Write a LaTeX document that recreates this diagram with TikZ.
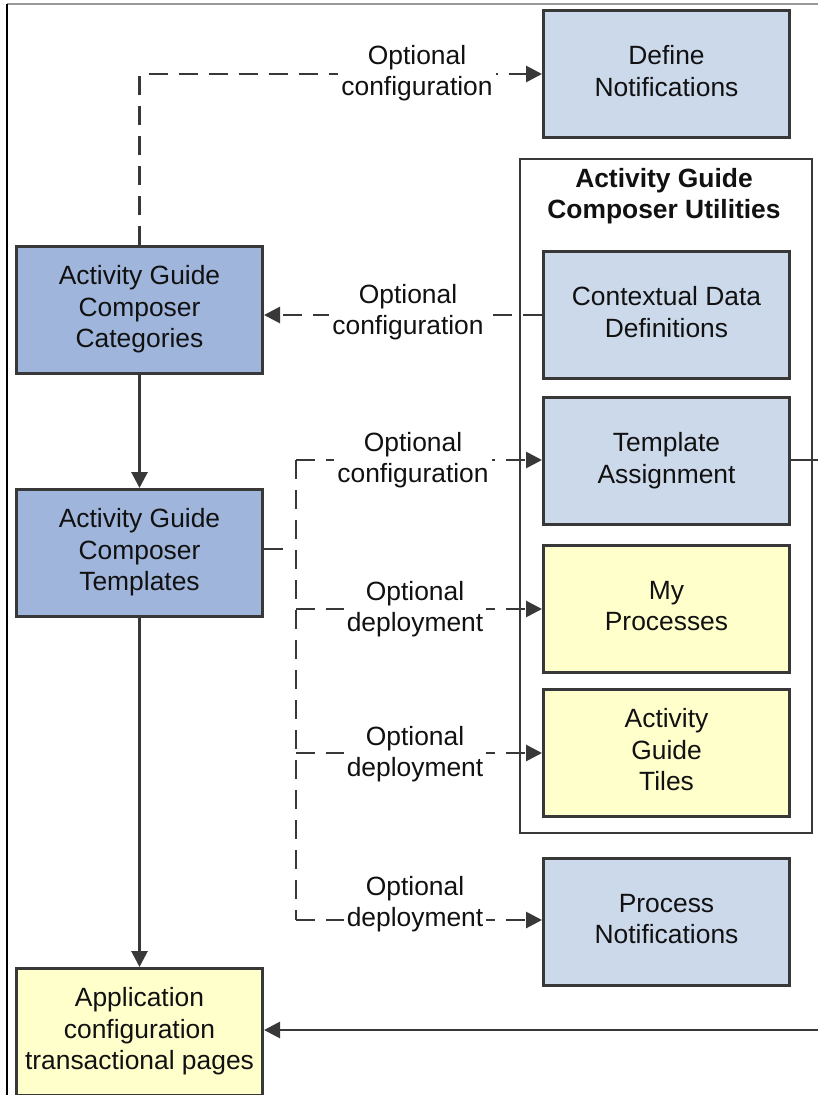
\documentclass[tikz,border=0pt]{standalone}
\usepackage{fontspec}
\setmainfont{Liberation Sans}
\usetikzlibrary{arrows.meta}
\definecolor{lblue}{HTML}{CCD9EB}
\definecolor{dblue}{HTML}{9FB5DB}
\definecolor{lyellow}{HTML}{FFFFCC}
\definecolor{edge}{HTML}{383838}
\definecolor{txt}{HTML}{111111}
\begin{document}
\begin{tikzpicture}[x=1pt,y=-1pt,
  font=\fontsize{26.4}{31.5}\selectfont, text=txt,
  box/.style={draw=edge, line width=3pt, minimum width=246pt, minimum height=127pt, align=center, inner sep=0pt, anchor=north west},
  lb/.style={box, fill=lblue},
  db/.style={box, fill=dblue},
  yb/.style={box, fill=lyellow},
  lab/.style={fill=white, align=center, inner sep=3pt},
  solidc/.style={draw=edge, line width=2.8pt},
  dashc/.style={draw=edge, line width=2.8pt, dash pattern=on 19pt off 11pt},
  tip/.style={-{Triangle[length=16pt,width=16pt]}}]
\useasboundingbox (0,0) rectangle (818,1095);
\fill[white] (0,0) rectangle (818,1095);
% screenshot frame lines
\draw[gray!80, line width=1.2pt] (7,4) -- (818,4);
\draw[black, line width=1.6pt] (7,4) -- (7,1095);
% utilities container
\node[draw=edge, line width=2.4pt, minimum width=292pt, minimum height=674pt, anchor=north west, inner sep=0pt] (util) at (519,158) {};
\node[font=\fontsize{26.4}{31.5}\selectfont\bfseries, align=center, anchor=center] (utitle) at (664,196) {Activity Guide\\Composer Utilities};
% boxes
\node[lb] (defn) at (542,9) {Define\\Notifications\\[-25pt]};
\node[lb] (ctx) at (542,250) {Contextual Data\\Definitions\\[-25pt]};
\node[lb] (tas) at (542,396) {Template\\Assignment\\[-25pt]};
\node[yb] (myp) at (542,544) {My\\Processes\\[-25pt]};
\node[yb] (tiles) at (542,688) {Activity\\Guide\\Tiles\\[-25pt]};
\node[lb] (pn) at (542,857) {Process\\Notifications\\[-25pt]};
\node[db] (cat) at (15,245) {Activity Guide\\Composer\\Categories\\[-25pt]};
\node[db] (tmpl) at (15,488) {Activity Guide\\Composer\\Templates\\[-25pt]};
\node[yb] (app) at (15,967) {Application\\configuration\\transactional pages\\[-25pt]};
% coordinates
\coordinate (stub) at (283,549);
\coordinate (trunkT) at (296,460);
\coordinate (trunkB) at (296,920);
\coordinate (rA) at (820,460);
\coordinate (rB) at (820,1030);
% connectors
\draw[dashc, tip] (cat.north) |- (defn.west);
\draw[dashc, tip] (ctx.west) -- (ctx.west -| cat.east);
\draw[solidc, tip] (cat.south) -- (tmpl.north);
\draw[solidc, tip] (tmpl.south) -- (app.north);
\draw[solidc] (tmpl.east |- stub) -- (stub);
\draw[dashc] (trunkT) -- (trunkB);
\draw[dashc, tip] (trunkT) -- (trunkT -| tas.west);
\draw[dashc, tip] (trunkT |- myp.west) -- (myp.west);
\draw[dashc, tip] (trunkT |- tiles.west) -- (tiles.west);
\draw[dashc, tip] (trunkB) -- (trunkB -| pn.west);
\draw[solidc] (tas.east |- rA) -- (rA);
\draw[solidc, tip] (rB) -- (rB -| app.east);
% labels
\node[lab] (l1) at (417,73) {Optional\\configuration};
\node[lab] (l2) at (408,312) {Optional\\configuration};
\node[lab] (l3) at (413,460) {Optional\\configuration};
\node[lab] (l4) at (415,609) {Optional\\deployment};
\node[lab] (l5) at (415,754) {Optional\\deployment};
\node[lab] (l6) at (415,904) {Optional\\deployment};
\end{tikzpicture}
\end{document}
